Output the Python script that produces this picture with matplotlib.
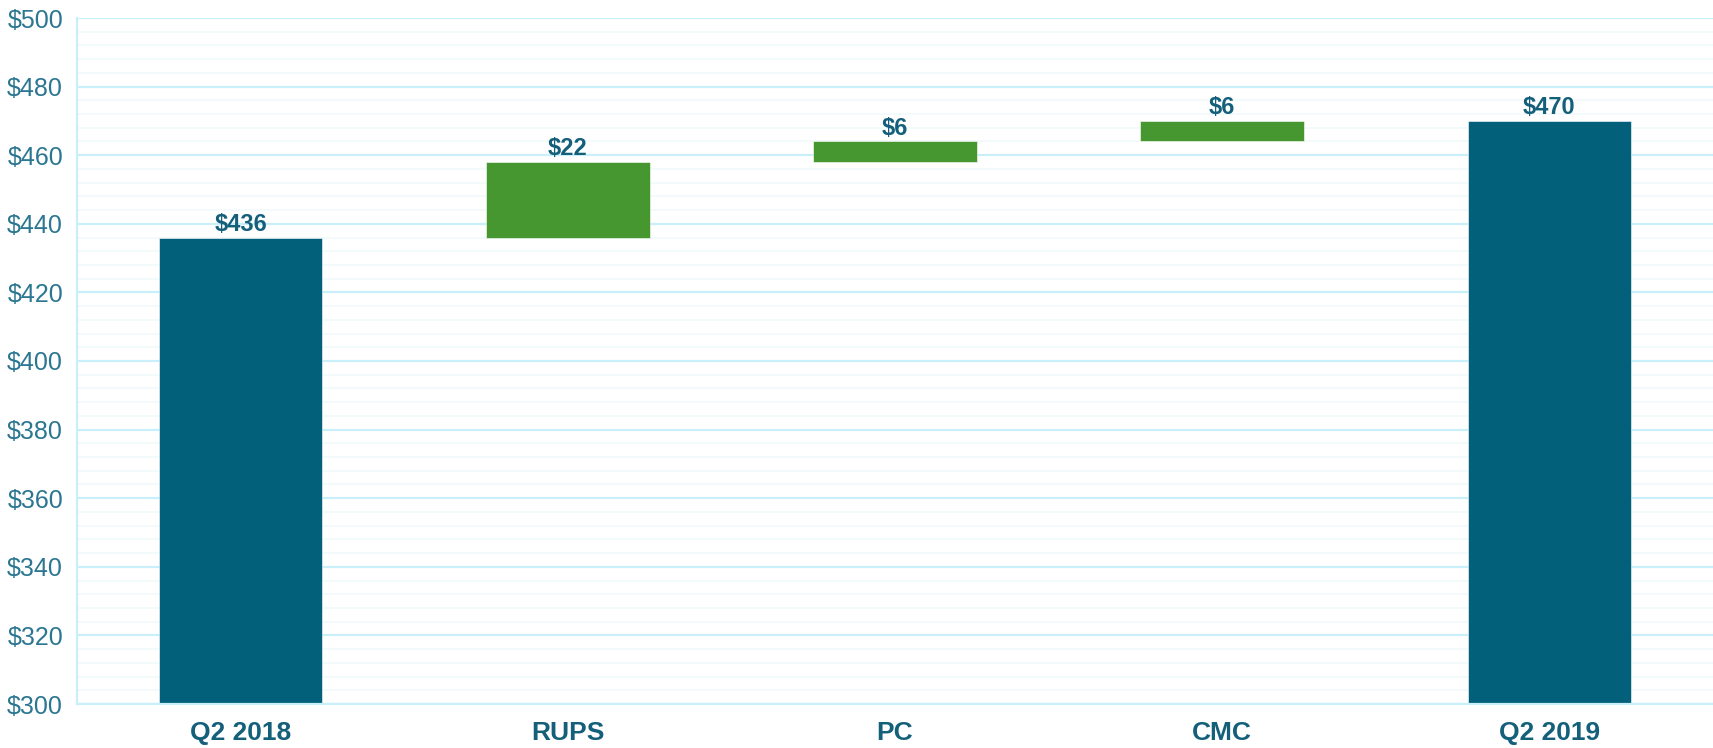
import matplotlib
matplotlib.use("Agg")
import matplotlib.pyplot as plt
from matplotlib.ticker import MultipleLocator, FuncFormatter
import numpy as np

categories = ["Q2 2018", "RUPS", "PC", "CMC", "Q2 2019"]
start_value = 436
changes = [22, 6, 6]
end_value = 470
y_floor = 300

TEAL = "#03607A"
GREEN = "#46972F"
TEXT = "#145F7A"
TICK = "#2B7690"
GRID_MAJOR = "#C9EFFB"
GRID_MINOR = "#F3FAFC"

plt.rcParams["font.family"] = ["Liberation Sans", "DejaVu Sans"]

# waterfall geometry from the data
tops = [start_value] + list(start_value + np.cumsum(changes)) + [end_value]
bottoms = [y_floor] + list(start_value + np.cumsum([0] + changes[:-1])) + [y_floor]
labels = [start_value] + changes + [end_value]
colors = [TEAL] + [GREEN] * len(changes) + [TEAL]

fig = plt.figure(figsize=(17.13, 7.48), dpi=100)
ax = fig.add_axes([77 / 1713, 44 / 748, 1636 / 1713, 686 / 748])

x = np.arange(len(categories))
heights = np.array(tops) - np.array(bottoms)
ax.bar(x, heights, bottom=bottoms, width=0.5, color=colors, zorder=3,
       edgecolor="white", linewidth=0.4)

for xi, top, lab in zip(x, tops, labels):
    ax.text(xi, top + 0.5, f"${lab}", ha="center", va="bottom",
            fontsize=17, fontweight="bold", color=TEXT, zorder=4)

ax.set_xlim(-0.5, len(categories) - 0.5)
ax.set_ylim(y_floor, 500)
ax.yaxis.set_major_locator(MultipleLocator(20))
ax.yaxis.set_minor_locator(MultipleLocator(4))
ax.yaxis.set_major_formatter(FuncFormatter(lambda v, p: f"${v:.0f}"))

ax.grid(True, which="major", axis="y", color=GRID_MAJOR, linewidth=1.6, zorder=1)
ax.grid(True, which="minor", axis="y", color=GRID_MINOR, linewidth=1.4, zorder=0)
ax.set_axisbelow(True)

ax.set_xticks(x)
ax.set_xticklabels(categories, fontsize=19, fontweight="bold", color=TEXT)
ax.tick_params(axis="x", length=0, pad=12)
ax.tick_params(axis="y", which="both", length=0, pad=10, labelsize=18, labelcolor=TICK)

for side in ("top", "right"):
    ax.spines[side].set_visible(False)
ax.spines["left"].set_color(GRID_MAJOR)
ax.spines["left"].set_linewidth(1.6)
ax.spines["bottom"].set_color(GRID_MAJOR)
ax.spines["bottom"].set_linewidth(1.6)
ax.spines["bottom"].set_zorder(5)

fig.savefig("out.png", dpi=100, facecolor="white")
